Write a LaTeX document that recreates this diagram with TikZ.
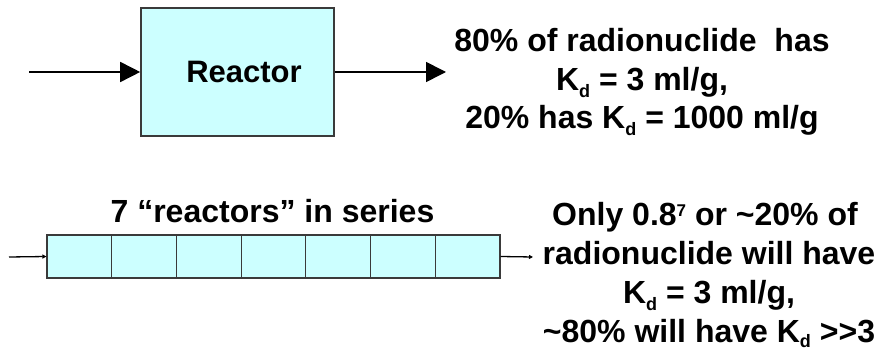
\documentclass[tikz,border=0pt]{standalone}
\usepackage{fontspec}
\setmainfont{Liberation Sans}
\usetikzlibrary{arrows.meta}
\newcommand{\Kd}[1][7pt]{K\raisebox{-#1}{\fontsize{18}{18}\selectfont d}}
\definecolor{reactfill}{HTML}{CCFFFF}
\definecolor{edgegray}{HTML}{3A3A3A}
\begin{document}
\begin{tikzpicture}[x=1pt,y=-1pt,
  bigtext/.style={font=\fontsize{32}{38}\selectfont\bfseries, inner sep=0pt, anchor=base},
  reactorbox/.style={draw=edgegray, line width=1.6pt, fill=reactfill, minimum width=193pt, minimum height=128pt, inner sep=0pt, font=\fontsize{31}{38}\selectfont\bfseries},
  cellbox/.style={draw=edgegray, line width=1.1pt, fill=reactfill, minimum width=64.71pt, minimum height=43pt, inner sep=0pt},
  bigarrow/.style={line width=1.6pt, -{Triangle[length=20pt,width=20pt]}},
  smallarrow/.style={line width=1.3pt, -{Triangle[length=4pt,width=4pt]}}]
\useasboundingbox (0,0) rectangle (880,352);
% top reactor
\node[reactorbox] (R) at (237.5,72) {\hspace*{13pt}Reactor};
\coordinate (inA) at (29,72);
\coordinate (outA) at (446,72);
\draw[bigarrow] (inA) -- (R.west);
\draw[bigarrow] (R.east) -- (outA);
\node[bigtext] (a1) at (642,52) {80\% of radionuclide\ \ has};
\node[bigtext] (a2) at (642,90.5) {\Kd{} = 3 ml/g,};
\node[bigtext] (a3) at (642,128.5) {20\% has \Kd{} = 1000 ml/g};
% series
\node[bigtext] (title) at (272.5,223) {7 “reactors” in series};
\foreach \i in {1,...,7} {
  \node[cellbox] (c\i) at ({47+64.71*(\i-0.5)},256.5) {};
}
\coordinate (inB) at (9,257);
\coordinate (outB) at (533,257);
\draw[smallarrow] (inB) -- (c1.west);
\draw[smallarrow] (c7.east) -- (outB);
\node[bigtext] (b1) at (705,226) {Only 0.8\raisebox{9pt}{\fontsize{17}{17}\selectfont 7} or \textasciitilde20\% of};
\node[bigtext] (b2) at (709,265) {radionuclide will have};
\node[bigtext] (b3) at (709,304) {\Kd{} = 3 ml/g,};
\node[bigtext] (b4) at (709,342) {\textasciitilde80\% will have \Kd[5.5pt]{} >{}>3};
\end{tikzpicture}
\end{document}
